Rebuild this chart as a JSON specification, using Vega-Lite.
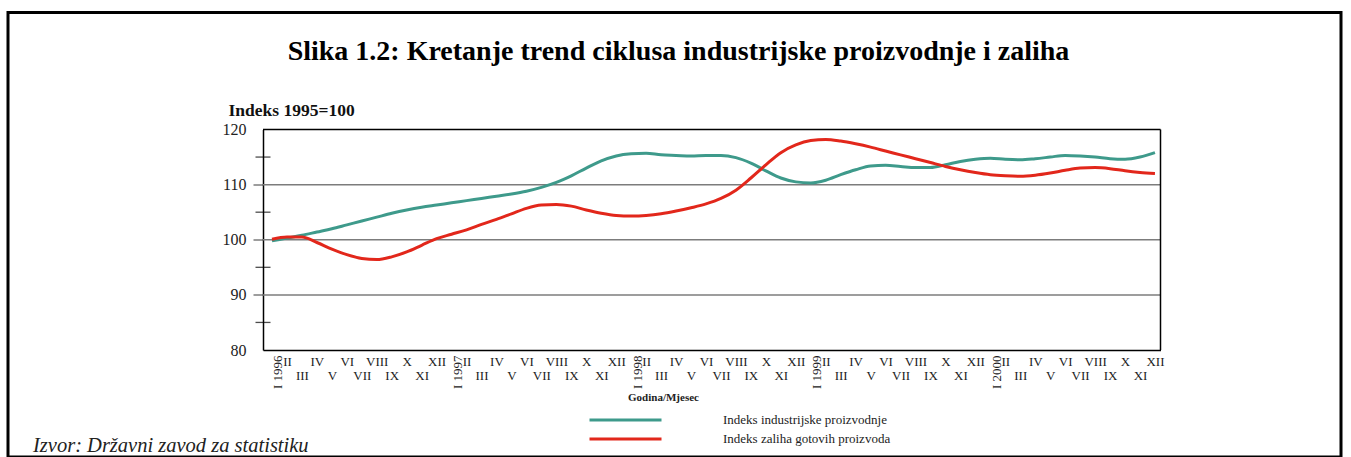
{
  "$schema": "https://vega.github.io/schema/vega-lite/v6.json",
  "width": 1333,
  "height": 444.5,
  "autosize": {"type": "none"},
  "padding": {"left": 8, "top": 12.5, "right": 10, "bottom": 0},
  "background": "white",
  "config": {
    "view": {"stroke": "black", "strokeWidth": 3},
    "font": "Liberation Serif",
    "axisX": {
      "offset": -107,
      "grid": false,
      "ticks": false,
      "tickSize": 0,
      "domainColor": "black",
      "domainWidth": 1.5,
      "labelFont": "Liberation Serif",
      "labelFontSize": 13,
      "labelLineHeight": 14,
      "labelColor": "#222222",
      "labelOverlap": false,
      "labelSeparation": -40,
      "labelBound": false,
      "labelFlush": false,
      "labelPadding": 5,
      "titleFont": "Liberation Serif",
      "titleFontSize": 11,
      "titleFontWeight": "bold",
      "titleColor": "#222222",
      "titleX": 655,
      "titleY": 47,
      "titleAlign": "center",
      "titleBaseline": "middle"
    },
    "axisY": {
      "offset": -255,
      "grid": false,
      "tickSize": 10,
      "tickWidth": 1.5,
      "domainColor": "black",
      "domainWidth": 1.5,
      "labelFont": "Liberation Serif",
      "labelFontSize": 16,
      "labelColor": "#222222",
      "labelPadding": 7,
      "labelOverlap": false,
      "titleFont": "Liberation Serif",
      "titleFontSize": 17.5,
      "titleFontWeight": "bold",
      "titleColor": "#111111",
      "titleAngle": 0,
      "titleX": -35,
      "titleY": 98,
      "titleAlign": "left",
      "titleBaseline": "middle"
    }
  },
  "title": {
    "text": "Slika 1.2: Kretanje trend ciklusa industrijske proizvodnje i zaliha",
    "font": "Liberation Serif", "fontSize": 28, "fontWeight": "bold", "color": "black",
    "anchor": "middle", "frame": "group", "baseline": "middle", "dx": 4, "dy": 71
  },
  "layer": [
    {
      "data": {"values": [{"g": 90}, {"g": 100}, {"g": 110}]},
      "mark": {"type": "rule", "color": "#7c7c7c", "strokeWidth": 1.5},
      "encoding": {
        "y": {"field": "g", "type": "quantitative", "scale": {"domain": [80, 120], "range": [337.5, 117], "nice": false, "zero": false}},
        "x": {"datum": -0.601, "type": "quantitative", "scale": {"domain": [-0.601, 59.37], "range": [255, 1152.5], "nice": false, "zero": false}},
        "x2": {"datum": 59.37}
      }
    },
    {
      "data": {"values": [{}]},
      "mark": {"type": "rule", "color": "black", "strokeWidth": 1.5},
      "encoding": {
        "y": {"datum": 120, "type": "quantitative", "scale": {"domain": [80, 120], "range": [337.5, 117], "nice": false, "zero": false}},
        "x": {"datum": -0.601, "type": "quantitative", "scale": {"domain": [-0.601, 59.37], "range": [255, 1152.5], "nice": false, "zero": false}},
        "x2": {"datum": 59.37}
      }
    },
    {
      "data": {"values": [{}]},
      "mark": {"type": "rule", "color": "black", "strokeWidth": 1.5},
      "encoding": {
        "x": {"datum": 59.37, "type": "quantitative", "scale": {"domain": [-0.601, 59.37], "range": [255, 1152.5], "nice": false, "zero": false}},
        "y": {"datum": 80, "type": "quantitative", "scale": {"domain": [80, 120], "range": [337.5, 117], "nice": false, "zero": false}},
        "y2": {"datum": 120}
      }
    },
    {
      "data": {"values": [{"m": 85}, {"m": 95}, {"m": 105}, {"m": 115}]},
      "mark": {"type": "tick", "orient": "horizontal", "size": 15, "thickness": 1.3, "color": "black"},
      "encoding": {
        "y": {"field": "m", "type": "quantitative", "scale": {"domain": [80, 120], "range": [337.5, 117], "nice": false, "zero": false}},
        "x": {"datum": -0.601, "type": "quantitative", "scale": {"domain": [-0.601, 59.37], "range": [255, 1152.5], "nice": false, "zero": false}}
      }
    },
    {
      "data": {"values": [
        {"month": 0, "ind": 99.8, "zal": 100.1},
        {"month": 1, "ind": 100.3, "zal": 100.5},
        {"month": 2, "ind": 100.8, "zal": 100.5},
        {"month": 3, "ind": 101.4, "zal": 99.5},
        {"month": 4, "ind": 102.0, "zal": 98.3},
        {"month": 5, "ind": 102.7, "zal": 97.3},
        {"month": 6, "ind": 103.4, "zal": 96.6},
        {"month": 7, "ind": 104.1, "zal": 96.4},
        {"month": 8, "ind": 104.8, "zal": 96.9},
        {"month": 9, "ind": 105.4, "zal": 97.8},
        {"month": 10, "ind": 105.9, "zal": 99.0},
        {"month": 11, "ind": 106.3, "zal": 100.2},
        {"month": 12, "ind": 106.7, "zal": 101.0},
        {"month": 13, "ind": 107.1, "zal": 101.8},
        {"month": 14, "ind": 107.5, "zal": 102.8},
        {"month": 15, "ind": 107.9, "zal": 103.7},
        {"month": 16, "ind": 108.3, "zal": 104.7},
        {"month": 17, "ind": 108.8, "zal": 105.7},
        {"month": 18, "ind": 109.5, "zal": 106.3},
        {"month": 19, "ind": 110.4, "zal": 106.4},
        {"month": 20, "ind": 111.6, "zal": 106.1},
        {"month": 21, "ind": 113.0, "zal": 105.4},
        {"month": 22, "ind": 114.3, "zal": 104.8},
        {"month": 23, "ind": 115.2, "zal": 104.4},
        {"month": 24, "ind": 115.6, "zal": 104.3},
        {"month": 25, "ind": 115.7, "zal": 104.4},
        {"month": 26, "ind": 115.4, "zal": 104.7},
        {"month": 27, "ind": 115.3, "zal": 105.2},
        {"month": 28, "ind": 115.2, "zal": 105.8},
        {"month": 29, "ind": 115.3, "zal": 106.5},
        {"month": 30, "ind": 115.3, "zal": 107.5},
        {"month": 31, "ind": 114.9, "zal": 109.0},
        {"month": 32, "ind": 113.9, "zal": 111.2},
        {"month": 33, "ind": 112.5, "zal": 113.6},
        {"month": 34, "ind": 111.2, "zal": 115.8},
        {"month": 35, "ind": 110.5, "zal": 117.2},
        {"month": 36, "ind": 110.3, "zal": 118.0},
        {"month": 37, "ind": 110.8, "zal": 118.2},
        {"month": 38, "ind": 111.8, "zal": 117.9},
        {"month": 39, "ind": 112.7, "zal": 117.4},
        {"month": 40, "ind": 113.4, "zal": 116.8},
        {"month": 41, "ind": 113.5, "zal": 116.1},
        {"month": 42, "ind": 113.3, "zal": 115.4},
        {"month": 43, "ind": 113.1, "zal": 114.7},
        {"month": 44, "ind": 113.1, "zal": 114.0},
        {"month": 45, "ind": 113.6, "zal": 113.3},
        {"month": 46, "ind": 114.2, "zal": 112.7},
        {"month": 47, "ind": 114.6, "zal": 112.2},
        {"month": 48, "ind": 114.8, "zal": 111.8},
        {"month": 49, "ind": 114.6, "zal": 111.6},
        {"month": 50, "ind": 114.5, "zal": 111.5},
        {"month": 51, "ind": 114.7, "zal": 111.7},
        {"month": 52, "ind": 115.0, "zal": 112.1},
        {"month": 53, "ind": 115.3, "zal": 112.6},
        {"month": 54, "ind": 115.2, "zal": 113.0},
        {"month": 55, "ind": 115.0, "zal": 113.1},
        {"month": 56, "ind": 114.7, "zal": 112.9},
        {"month": 57, "ind": 114.6, "zal": 112.5},
        {"month": 58, "ind": 115.0, "zal": 112.2},
        {"month": 59, "ind": 115.8, "zal": 112.0}
      ]},
      "transform": [{"fold": ["ind", "zal"], "as": ["series", "value"]}],
      "mark": {"type": "line", "strokeWidth": 3, "interpolate": "monotone"},
      "encoding": {
        "x": {
          "field": "month", "type": "quantitative",
          "scale": {"domain": [-0.601, 59.37], "range": [255, 1152.5], "nice": false, "zero": false},
          "axis": {
            "values": [0,1,2,3,4,5,6,7,8,9,10,11,12,13,14,15,16,17,18,19,20,21,22,23,24,25,26,27,28,29,30,31,32,33,34,35,36,37,38,39,40,41,42,43,44,45,46,47,48,49,50,51,52,53,54,55,56,57,58,59],
            "tickCount": 200,
            "labelExpr": "datum.value % 12 === 0 ? 'I ' + (1996 + floor(datum.value / 12)) : (datum.value % 2 === 1 ? ['I','II','III','IV','V','VI','VII','VIII','IX','X','XI','XII'][datum.value % 12] : ['', ['I','II','III','IV','V','VI','VII','VIII','IX','X','XI','XII'][datum.value % 12]])",
            "labelOverlap": false,
            "labelSeparation": -40,
            "labelAngle": {"expr": "datum.value % 12 === 0 ? -90 : 0"},
            "labelBaseline": "top",
            "labelAlign": {"condition": {"test": "datum.value % 12 === 0", "value": "right"}, "value": "center"},
            "title": "Godina/Mjesec"
          }
        },
        "y": {
          "field": "value", "type": "quantitative",
          "scale": {"domain": [80, 120], "range": [337.5, 117], "nice": false, "zero": false},
          "axis": {
            "values": [80, 90, 100, 110, 120],
            "tickColor": {"condition": {"test": "datum.value === 80 || datum.value === 120", "value": "transparent"}, "value": "#7c7c7c"},
            "title": "Indeks 1995=100"
          }
        },
        "color": {
          "field": "series", "type": "nominal",
          "scale": {"domain": ["ind", "zal"], "range": ["#3e9a8b", "#e2271b"]},
          "legend": {
            "orient": "none", "legendX": 610, "legendY": 400,
            "title": null, "symbolType": "M-6,0H6", "symbolSize": 144, "symbolStrokeWidth": 3,
            "labelFont": "Liberation Serif", "labelFontSize": 13, "labelColor": "#222222", "labelLimit": 400,
            "labelOffset": 90, "rowPadding": 4, "padding": 0,
            "labelExpr": "datum.label === 'ind' ? 'Indeks industrijske proizvodnje' : 'Indeks zaliha gotovih proizvoda'"
          }
        }
      }
    },
    {
      "data": {"values": [{"t": "Izvor: Državni zavod za statistiku"}]},
      "mark": {"type": "text", "font": "Liberation Serif", "fontStyle": "italic", "fontSize": 20.5, "align": "left", "baseline": "alphabetic", "color": "#222222"},
      "encoding": {
        "text": {"field": "t"},
        "x": {"datum": -15.97, "type": "quantitative", "scale": {"domain": [-0.601, 59.37], "range": [255, 1152.5], "nice": false, "zero": false}},
        "y": {"datum": 61.5, "type": "quantitative", "scale": {"domain": [80, 120], "range": [337.5, 117], "nice": false, "zero": false}}
      }
    }
  ]
}
